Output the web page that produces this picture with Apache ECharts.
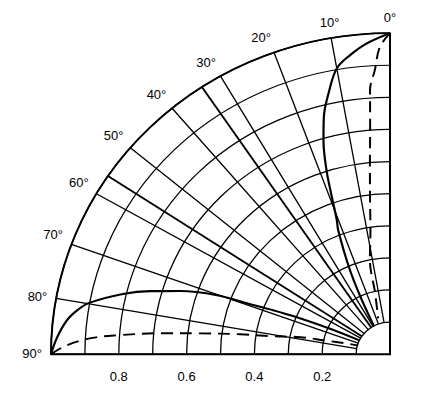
<!DOCTYPE html>
<html><head><meta charset="utf-8">
<script src="https://cdn.jsdelivr.net/npm/echarts@6/dist/echarts.min.js"></script>
<style>
html,body{margin:0;padding:0;background:#fff;overflow:hidden;width:441px;height:394px}
/* the scanned reference is slightly compressed vertically; reproduce that aspect */
#c{width:441px;height:416px;transform:scaleY(0.947);transform-origin:0 0}
</style>
</head><body><div id="c"></div>
<script>
// ---- data ----
const angleTicks = [0, 10, 20, 30, 40, 50, 60, 70, 80, 90];
const radiusLabels = [0.2, 0.4, 0.6, 0.8];
const markerAngles = [33.7, 56.3];

const solidUpperAngle = [0, 4.1, 7.2, 10, 12.6, 14.8, 16.4, 18.1, 19.3, 20.6, 21.6, 24, 26, 28.5];
const solidUpperR     = [1, 0.97, 0.939, 0.904, 0.832, 0.764, 0.695, 0.603, 0.519, 0.446, 0.415, 0.3, 0.2, 0.1];

const solidLowerAngle = [90, 86.9, 83.7, 81.6, 79.8, 76.6, 74.5, 72.4, 70.2, 69.4, 68.3, 67.3, 66, 64.5];
const solidLowerR     = [1, 0.983, 0.959, 0.933, 0.902, 0.81, 0.735, 0.65, 0.542, 0.451, 0.371, 0.3, 0.2, 0.1];

const dashUpperAngle = [0, 1.8, 2.9, 4.1, 4.8, 5.6, 7, 8.5, 11.4, 13, 17.4];
const dashUpperR     = [1, 0.957, 0.886, 0.824, 0.70, 0.607, 0.483, 0.39, 0.3, 0.195, 0.117];

const dashLowerAngle = [90, 88.3, 86.7, 85.8, 84.5, 83.4, 82, 80.8, 78.7, 77.5, 75.6, 74];
const dashLowerR     = [1, 0.953, 0.88, 0.804, 0.681, 0.564, 0.446, 0.35, 0.27, 0.2, 0.137, 0.1];

// ---- layout ----
const CX = 390, CY = 374, R = 339;
const FONT = '"Liberation Sans", Arial, sans-serif';

function pairs(rs, as) { return rs.map((r, i) => [r, as[i]]); }

const chart = echarts.init(document.getElementById('c'), null, { renderer: 'svg' });
const curve = (data, dashed, w) => ({
  type: 'line', coordinateSystem: 'polar', polarIndex: 0,
  data, symbol: 'none', smooth: 0.35, silent: true,
  lineStyle: { color: '#000', width: w, type: dashed ? [12, 7] : 'solid' }
});

const series = [
  curve(pairs(solidUpperR, solidUpperAngle), false, 2.2),
  curve(pairs(solidLowerR, solidLowerAngle), false, 2.2),
  curve(pairs(dashUpperR, dashUpperAngle), true, 2),
  curve(pairs(dashLowerR, dashLowerAngle), true, 2)
];
markerAngles.forEach(a => {
  series.push({
    type: 'line', coordinateSystem: 'polar', polarIndex: 0, symbol: 'none', silent: true,
    data: [[0.1, a], [1, a]], lineStyle: { color: '#000', width: 1.9 }
  });
});

chart.setOption({
  backgroundColor: '#fff',
  animation: false,
  polar: [
    { center: [CX, CY], radius: [R * 0.1, R] },
    { center: [CX, CY], radius: [0, R] },
    { center: [CX, CY], radius: [0, R] }
  ],
  angleAxis: [
    {
      polarIndex: 0, type: 'value', min: angleTicks[0], max: angleTicks[angleTicks.length - 1], interval: 10,
      startAngle: 90, endAngle: 180, clockwise: false,
      axisLine: { show: false }, axisTick: { show: false },
      axisLabel: { formatter: v => v + '°', color: '#000', fontSize: 13, fontFamily: FONT, margin: 9 },
      splitLine: { show: true, lineStyle: { color: '#000', width: 1.3 } }
    },
    {
      polarIndex: 1, type: 'value', min: 0, max: 90, startAngle: 180, endAngle: 90,
      axisLine: { show: true, lineStyle: { color: '#000', width: 2 } },
      axisTick: { show: false }, axisLabel: { show: false }, splitLine: { show: false }
    },
    {
      polarIndex: 2, type: 'value', min: 0, max: 90, startAngle: 90, endAngle: 180, clockwise: false,
      axisLine: { show: false }, axisTick: { show: false }, axisLabel: { show: false }, splitLine: { show: false }
    }
  ],
  radiusAxis: [
    {
      polarIndex: 0, type: 'value', min: 0.1, max: 1, interval: 0.1,
      axisLine: { show: false }, axisTick: { show: false }, axisLabel: { show: false },
      splitLine: { show: true, lineStyle: { color: '#000', width: 1.3 } }
    },
    {
      polarIndex: 1, type: 'value', min: 0, max: 1, interval: 0.2,
      axisLine: { show: true, lineStyle: { color: '#000', width: 2 } },
      axisTick: { show: false },
      axisLabel: {
        color: '#000', fontSize: 13, fontFamily: FONT, margin: 18,
        formatter: v => { const f = radiusLabels.find(x => Math.abs(x - v) < 1e-6); return f === undefined ? '' : f.toFixed(1); }
      },
      splitLine: { show: false }
    },
    {
      polarIndex: 2, type: 'value', min: 0, max: 1,
      axisLine: { show: true, lineStyle: { color: '#000', width: 2 } },
      axisTick: { show: false }, axisLabel: { show: false }, splitLine: { show: false }
    }
  ],
  series
});
</script>
</body></html>
